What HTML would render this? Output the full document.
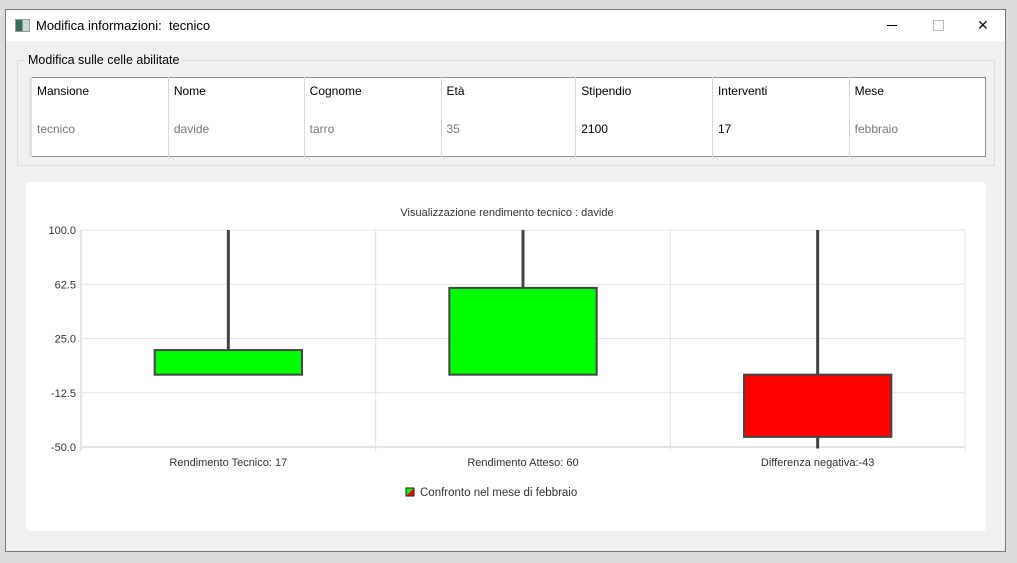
<!DOCTYPE html>
<html><head><meta charset="utf-8"><style>
body{margin:0;width:1017px;height:563px;background:#dcdcdc;font-family:"Liberation Sans",sans-serif;position:relative;overflow:hidden}
.win{position:absolute;left:5px;top:9px;width:1001px;height:543px;background:#f0f0f0;border:1px solid #7a7a7a;box-sizing:border-box}
.title{position:absolute;left:0;top:0;right:0;height:31px;background:#fff;font-size:13px}
.grp{position:absolute;left:11px;top:50px;width:978px;height:106px;border:1px solid #dcdcdc;box-sizing:border-box}
.grp-l{position:absolute;left:7px;top:-8px;background:#f0f0f0;padding:0 3px;font-size:12.5px}
table{position:absolute;left:23px;top:67px;width:957px;height:80px;border:1px solid #8c8c94;border-collapse:collapse;background:#fff;font-size:12px;box-sizing:border-box}
td{border-right:1px solid #d8d8d8;padding:0 0 0 5px;vertical-align:top;width:136px}
.h td{height:32px;padding-top:6px;color:#000}
.d td{color:#777;padding-top:6px}
.panel{position:absolute;background:#fff;border-radius:4px;width:960px;height:349px}
</style></head><body>
<div class="win">
 <div class="title">
  <div style="position:absolute;left:9px;top:9px;width:13px;height:11px;background:linear-gradient(90deg,#3a6a5a 50%,#c8d8d8 50%);border:1px solid #999"></div>
  <span style="position:absolute;left:30px;top:8px">Modifica informazioni:&nbsp; tecnico</span>
  <div style="position:absolute;left:881px;top:15px;width:10px;height:1px;background:#000"></div>
  <div style="position:absolute;left:927px;top:10px;width:9px;height:9px;border:1px solid #bbb"></div>
  <div style="position:absolute;left:971px;top:7px;font-size:14px;color:#111">✕</div>
 </div>
 <div class="grp"><span class="grp-l">Modifica sulle celle abilitate</span></div>
 <table>
  <tr class="h"><td style="border-left:3px solid #e0e0e0">Mansione</td><td>Nome</td><td>Cognome</td><td>Età</td><td>Stipendio</td><td>Interventi</td><td style="border-right:none">Mese</td></tr>
  <tr class="d"><td style="border-left:3px solid #e0e0e0">tecnico</td><td>davide</td><td>tarro</td><td>35</td><td style="color:#000">2100</td><td style="color:#000">17</td><td style="border-right:none">febbraio</td></tr>
 </table>
</div>
<div class="panel" style="left:26px;top:182px"></div>
<svg id="ch" width="1017" height="563" style="position:absolute;left:0;top:0" font-family="Liberation Sans,sans-serif"></svg>
<script>
const categories=["Rendimento Tecnico: 17","Rendimento Atteso: 60","Differenza negativa:-43"];
const opens=[0,0,0];
const closes=[17,60,-43];
const highs=[100,100,100];
const lows=[0,0,-51];
const yTicks=["100.0","62.5","25.0","-12.5","-50.0"];
const yTickVals=[100,62.5,25,-12.5,-50];
const svg=document.getElementById('ch');const NS='http://www.w3.org/2000/svg';
const L=81,R=965,T=230,B=447,ymin=-50,ymax=100;
const y=v=>T+(ymax-v)/(ymax-ymin)*(B-T);
const bw=(R-L)/categories.length;
const x=i=>L+bw*(i+0.5);
function mk(t,a,p){const e=document.createElementNS(NS,t);for(const k in a)e.setAttribute(k,a[k]);(p||svg).appendChild(e);return e;}
let e=mk('text',{x:507,y:216,'text-anchor':'middle','font-size':11,fill:'#333'});e.textContent='Visualizzazione rendimento tecnico : davide';


yTickVals.forEach((v,i)=>{let g=mk('line',{x1:L,x2:R,y1:y(v),y2:y(v),stroke:'#e4e4e4','stroke-width':v===ymin?2:1});


let t=mk('text',{x:L-5,y:y(v)+4,'text-anchor':'end','font-size':11,fill:'#333'});t.textContent=yTicks[i];

});
for(let i=0;i<=categories.length;i++){let g=mk('line',{x1:L+bw*i,x2:L+bw*i,y1:T,y2:B+4,stroke:'#e4e4e4','stroke-width':i===0?2:1});

}
categories.forEach((c,i)=>{const cx=x(i);
let w=mk('line',{x1:cx,x2:cx,y1:y(highs[i]),y2:y(lows[i]),stroke:'#444','stroke-width':3});


const up=closes[i]>=opens[i];const top=y(Math.max(opens[i],closes[i])),bot=y(Math.min(opens[i],closes[i]));
let r=mk('rect',{x:cx-bw/4,y:top,width:bw/2,height:bot-top,fill:up?'#00ff00':'#ff0000',stroke:'#444','stroke-width':2});


let t=mk('text',{x:cx,y:466,'text-anchor':'middle','font-size':11,fill:'#333'});t.textContent=c;

});
let lg=mk('g',{});


mk('polygon',{points:'406,496 406,488 414,488',fill:'#00ff00'},lg);
mk('polygon',{points:'406,496 414,496 414,488',fill:'#ff0000'},lg);
mk('rect',{x:406,y:488,width:8,height:8,fill:'none',stroke:'#222'},lg);
let lt=mk('text',{x:420,y:496,'font-size':11.5,fill:'#333'},lg);lt.textContent='Confronto nel mese di febbraio';
</script>
</body></html>
